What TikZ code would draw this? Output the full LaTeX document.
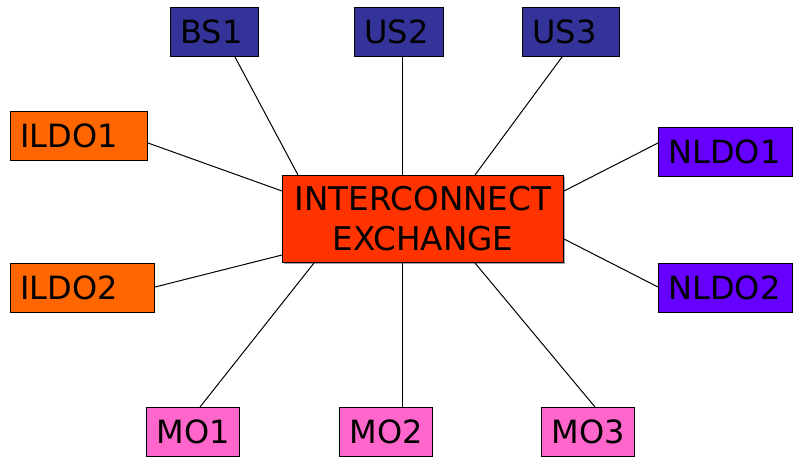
\documentclass[tikz,border=0pt]{standalone}
\usepackage{fontspec}
\setmainfont{DejaVu Sans}
\usetikzlibrary{calc,shadows}
\definecolor{navyblue}{HTML}{333399}
\definecolor{ildoorange}{HTML}{FF6600}
\definecolor{hubred}{HTML}{FF3300}
\definecolor{nldopurple}{HTML}{6600FF}
\definecolor{mopink}{HTML}{FF66CC}
\tikzset{
  box/.style={draw=black, line width=0.75pt, anchor=north west, minimum height=36.75pt,
    inner xsep=7.5pt, inner ysep=0pt, align=left, font=\fontsize{24}{28}\selectfont},
  hub/.style={draw=black, line width=0.75pt, anchor=north west, fill=hubred,
    minimum width=210.75pt, minimum height=65.25pt, inner sep=0pt, align=center,
    font=\fontsize{24.5}{30}\selectfont,
    drop shadow={shadow xshift=1pt, shadow yshift=-1.2pt, fill=gray!70, opacity=1}},
  link/.style={line width=0.75pt, black}
}
\begin{document}
\begin{tikzpicture}[x=0.75pt,y=-0.75pt]
\useasboundingbox (0,0) rectangle (793,457);
% hub
\node[hub] (ie) at (282,175) {INTERCONNECT\\EXCHANGE};
% top
\node[box, fill=navyblue, text width=51pt] (bs1) at (170,7) {BS1};
\node[box, fill=navyblue, text width=51.75pt] (us2) at (354,7) {US2};
\node[box, fill=navyblue, text width=57.75pt] (us3) at (522,7) {US3};
% left
\node[box, fill=ildoorange, text width=87.75pt] (ildo1) at (10,111) {ILDO1};
\node[box, fill=ildoorange, text width=93pt] (ildo2) at (10,263) {ILDO2};
% right
\node[box, fill=nldopurple, text width=85.5pt] (nldo1) at (658,127) {NLDO1};
\node[box, fill=nldopurple, text width=85.5pt] (nldo2) at (658,263) {NLDO2};
% bottom
\node[box, fill=mopink, text width=54.75pt] (mo1) at (146,407) {MO1};
\node[box, fill=mopink, text width=54.75pt] (mo2) at (339,407) {MO2};
\node[box, fill=mopink, text width=54.75pt] (mo3) at (541,407) {MO3};
% connectors
\draw[link] ($(bs1.south west)+(65,0)$) -- ($(ie.north west)+(16,0)$);
\draw[link] ($(us2.south west)+(48,0)$) -- ($(ie.north west)+(120,0)$);
\draw[link] ($(us3.south west)+(40,0)$) -- ($(ie.north west)+(193,0)$);
\draw[link] ($(ildo1.north east)+(0,32)$) -- ($(ie.north west)+(0,16)$);
\draw[link] ($(ildo2.north east)+(0,24)$) -- ($(ie.north west)+(0,80)$);
\draw[link] ($(nldo1.north west)+(0,16)$) -- ($(ie.north east)+(0,16)$);
\draw[link] ($(nldo2.north west)+(0,24)$) -- ($(ie.north east)+(0,64)$);
\draw[link] ($(mo1.north west)+(54,0)$) -- ($(ie.south west)+(32,0)$);
\draw[link] ($(mo2.north west)+(63,0)$) -- ($(ie.south west)+(120,0)$);
\draw[link] ($(mo3.north west)+(54,0)$) -- ($(ie.south west)+(193,0)$);
\end{tikzpicture}
\end{document}
